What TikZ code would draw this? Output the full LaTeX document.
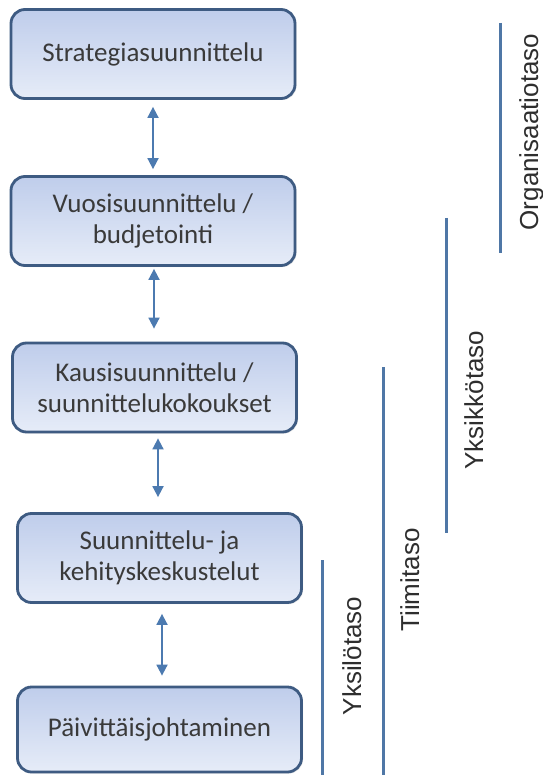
\documentclass[tikz,border=0pt]{standalone}
\usepackage{fontspec}
\setmainfont{Carlito}
\newfontfamily\arialfont{Liberation Sans}
\usetikzlibrary{arrows.meta,shadows}
\definecolor{boxborder}{HTML}{3E5B82}
\definecolor{boxtop}{HTML}{BFCDEB}
\definecolor{boxbot}{HTML}{E6ECF8}
\definecolor{arrowblue}{HTML}{4C7AB0}
\definecolor{levelline}{HTML}{4F77A6}
\definecolor{boxtext}{HTML}{3A3A3A}
\definecolor{leveltext}{HTML}{2E2E2E}
\tikzset{
  stagebox/.style={draw=boxborder, line width=2.8pt, rounded corners=14pt,
    top color=boxtop, bottom color=boxbot, minimum width=284pt, minimum height=89pt,
    inner sep=0pt, align=center, text=boxtext,
    font=\fontsize{27}{31}\selectfont,
    drop shadow={shadow xshift=1.5pt, shadow yshift=-1.5pt, opacity=0.18}},
  dblarrow/.style={arrowblue, line width=1.8pt,
    {Triangle[width=11pt,length=11pt]}-{Triangle[width=11pt,length=11pt]}},
  levelbar/.style={levelline, line width=3pt},
  levellabel/.style={rotate=90, anchor=base, inner sep=0pt, text=leveltext,
    font=\arialfont\fontsize{26}{30}\selectfont}
}
\begin{document}
\begin{tikzpicture}[x=1pt,y=-1pt]
\useasboundingbox[fill=white] (0,0) rectangle (542,775);
% boxes
\node[stagebox] (b1) at (153,54) {Strategiasuunnittelu};
\node[stagebox] (b2) at (153,221) {Vuosisuunnittelu /\\budjetointi};
\node[stagebox] (b3) at (154.5,387.5) {Kausisuunnittelu /\\suunnittelukokoukset};
\node[stagebox] (b4) at (159.5,558) {Suunnittelu- ja\\kehityskeskustelut};
\node[stagebox, minimum height=85pt] (b5) at (159.5,729.5) {P\"aivitt\"aisjohtaminen};
% arrow x positions
\coordinate (ax1) at (153,0);
\coordinate (ax2) at (154,0);
\coordinate (ax3) at (158,0);
\coordinate (ax4) at (162,0);
% connectors
\draw[dblarrow, shorten <=7pt, shorten >=6pt] (b1.south -| ax1) -- (b2.north -| ax1);
\draw[dblarrow, shorten <=2pt, shorten >=13pt] (b2.south -| ax2) -- (b3.north -| ax2);
\draw[dblarrow, shorten <=5pt, shorten >=15pt] (b3.south -| ax3) -- (b4.north -| ax3);
\draw[dblarrow, shorten <=10pt, shorten >=10pt] (b4.south -| ax4) -- (b5.north -| ax4);
% level bars
\coordinate (o1) at (500,23);  \coordinate (o2) at (500,253);
\coordinate (u1) at (446,218); \coordinate (u2) at (446,533);
\coordinate (t1) at (383,367); \coordinate (t2) at (383,776);
\coordinate (y1) at (322,560); \coordinate (y2) at (322,776);
\draw[levelbar] (o1) -- (o2);
\draw[levelbar] (u1) -- (u2);
\draw[levelbar] (t1) -- (t2);
\draw[levelbar] (y1) -- (y2);
% level labels
\node[levellabel] (lo) at (538,132) {Organisaatiotaso};
\node[levellabel] (lu) at (483,400) {Yksikkötaso};
\node[levellabel] (lt) at (419,580) {Tiimitaso};
\node[levellabel] (ly) at (361,656) {Yksilötaso};
\end{tikzpicture}
\end{document}
